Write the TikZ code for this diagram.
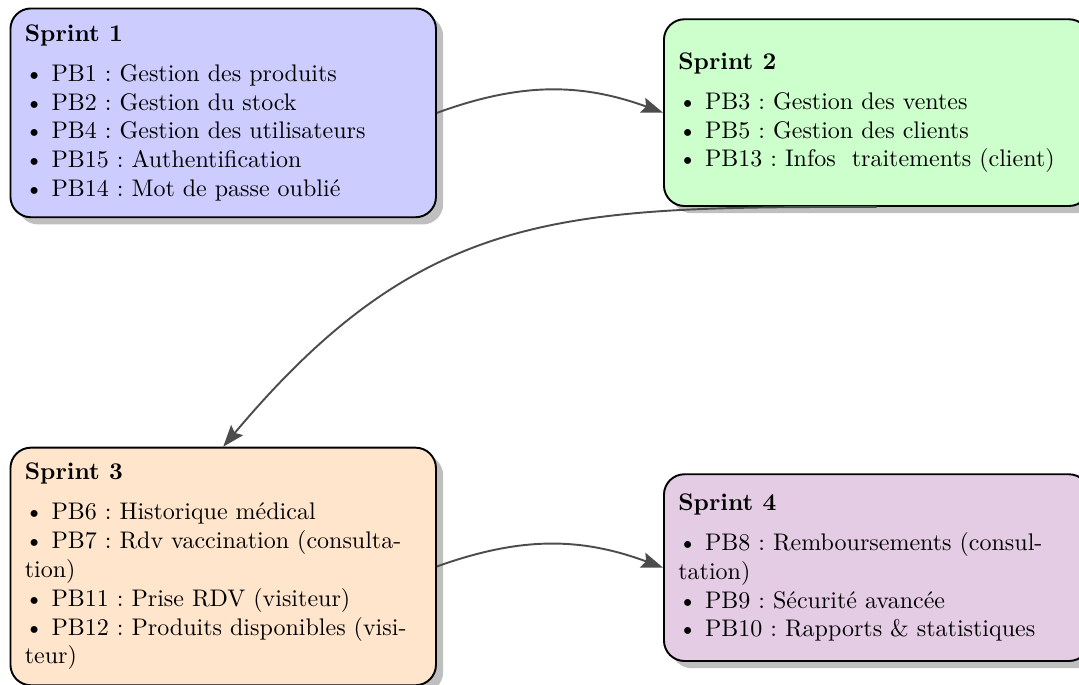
\documentclass[tikz,border=0pt]{standalone}
\usetikzlibrary{shadows,arrows.meta}
\newcommand\li[1]{\mbox{\textbullet\ #1}}
\newcommand\lc[1]{\mbox{#1}}
\begin{document}
\begin{tikzpicture}[x=0.41667pt, y=-0.41667pt,
  sprint/.style={draw, thick, rounded corners=3mm,
    drop shadow={shadow xshift=3pt, shadow yshift=-3pt}, inner sep=6pt,
    text width=165.3pt, align=flush left, anchor=north west, font=\frenchspacing},
  flow/.style={-{Stealth[length=9pt,width=6.5pt,inset=1.5pt]}, thick, black!70}]
\useasboundingbox (0,0) rectangle (1079,684);
\node[sprint, fill=blue!20, minimum height=87pt] (s1) at (9.5,7.5)
  {\textbf{Sprint 1}\\[4.7pt]
   \li{PB1 : Gestion des produits}\\
   \li{PB2 : Gestion du stock}\\
   \li{PB4 : Gestion des utilisateurs}\\
   \li{PB15 : Authentification}\\
   \li{PB14 : Mot de passe oublié}};
\node[sprint, fill=green!20, minimum height=77.8pt] (s2) at (663,18.3)
  {\textbf{Sprint 2}\\[4.7pt]
   \li{PB3 : Gestion des ventes}\\
   \li{PB5 : Gestion des clients}\\
   \li{PB13 : Infos\ \ traitements (client)}};
\node[sprint, fill=orange!20, minimum height=99pt] (s3) at (9.5,446.7)
  {\textbf{Sprint 3}\\[4.7pt]
   \li{PB6 : Historique médical}\\
   \li{PB7 : Rdv vaccination (consulta-}\\
   \lc{tion)}\\
   \li{PB11 : Prise RDV (visiteur)}\\
   \li{PB12 : Produits disponibles (visi-}\\
   \lc{teur)}};
\node[sprint, fill=violet!20, minimum height=77.8pt] (s4) at (663,473.3)
  {\textbf{Sprint 4}\\[4.7pt]
   \li{PB8 : Remboursements (consul-}\\
   \lc{tation)}\\
   \li{PB9 : Sécurité avancée}\\
   \li{PB10 : Rapports \& statistiques}};
\draw[flow] (s1.east) to[bend left=20] (s2.west);
\draw[flow] (s2.south) to[out=180, in=50, looseness=1.15] (s3.north);
\draw[flow] (s3.east) to[bend left=20] (s4.west);
\end{tikzpicture}
\end{document}
